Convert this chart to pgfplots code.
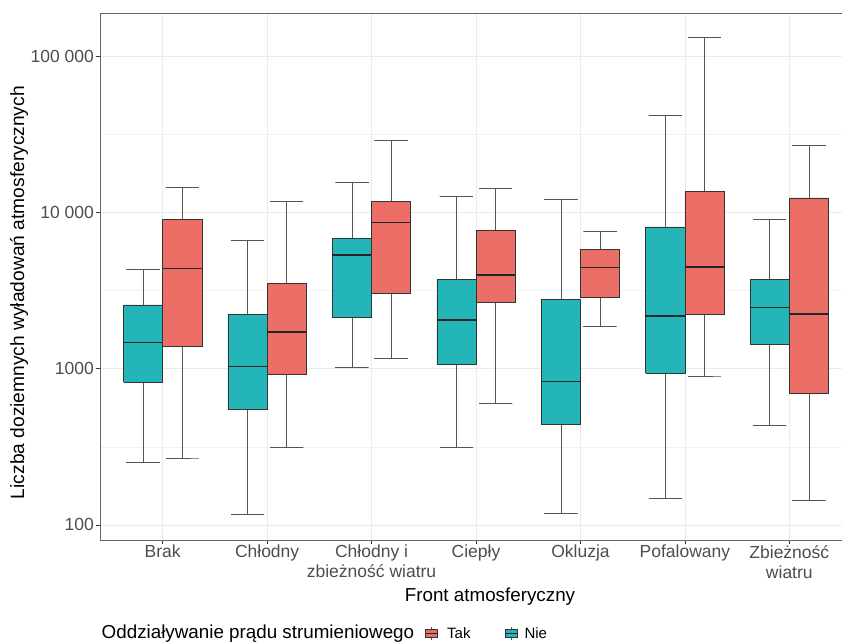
\documentclass[border=0pt]{standalone}
\usepackage{pgfplots}
\pgfplotsset{compat=1.18}
\usepackage{fontspec}
\setmainfont{Liberation Sans}
\definecolor{nie}{HTML}{23B5B8}
\definecolor{tak}{HTML}{EC6F67}
\definecolor{boxline}{HTML}{333333}
\definecolor{whisk}{HTML}{555555}
\definecolor{gridc}{HTML}{EBEBEB}
\definecolor{ticklab}{HTML}{4D4D4D}
\definecolor{framec}{HTML}{666666}
\pgfplotsset{
  keyimg/.style={legend image code/.code={
    \draw[draw=whisk, line width=0.5pt] (6pt,-1.5pt) -- (6pt,11.5pt);
    \draw[fill=#1, draw=boxline, line width=0.5pt] (0pt,1pt) rectangle (12pt,9pt);
    \draw[draw=black!85, line width=1pt] (0pt,5pt) -- (12pt,5pt);
  }},
}
% #1 position, #2 lower whisker, #3 lower quartile, #4 median, #5 upper quartile, #6 upper whisker, #7 colour
\newcommand{\bx}[7]{%
  \pgfmathsetmacro{\xa}{#1-0.1875}\pgfmathsetmacro{\xb}{#1+0.1875}%
  \pgfmathsetmacro{\ca}{#1-0.16}\pgfmathsetmacro{\cb}{#1+0.16}%
  \edef\temp{\noexpand\addplot[draw=whisk, line width=0.7pt, forget plot] coordinates {(\ca,#2) (\cb,#2) (#1,#2) (#1,#6) (\ca,#6) (\cb,#6)};%
  \noexpand\addplot[fill=#7, draw=boxline, line width=0.6pt, forget plot] coordinates {(\xa,#3) (\xb,#3) (\xb,#5) (\xa,#5) (\xa,#3)};%
  \noexpand\addplot[draw=black!85, line width=1.3pt, forget plot] coordinates {(\xa,#4) (\xb,#4)};}%
  \temp}
\begin{document}
\begin{tikzpicture}
\useasboundingbox (0,0) rectangle (842pt,644pt);
\begin{axis}[
  at={(100pt,104pt)}, anchor=south west,
  width=752pt, height=526.3pt, scale only axis,
  ymode=log,
  xmin=-0.6, xmax=6.6,
  ymin=80.1, ymax=186500,
  xtick={0,1,2,3,4,5,6},
  xticklabels={Brak,Chłodny,{Chłodny i\\zbieżność wiatru},Ciepły,Okluzja,Pofalowany,{Zbieżność\\wiatru}},
  ytick={100,1000,10000,100000},
  yticklabels={100,1000,10 000,100 000},
  minor ytick={316.23,3162.3,31623},
  minor tick length=0pt,
  major tick length=4pt,
  tick align=outside,
  tick pos=left,
  tick style={draw=boxline, line width=0.6pt},
  xmajorgrids, ymajorgrids, yminorgrids,
  major grid style={draw=gridc, line width=0.6pt},
  minor grid style={draw=gridc!70, line width=0.4pt},
  axis line style={draw=framec, line width=0.8pt},
  /pgf/number format/assume math mode=true,
  xticklabel style={font=\fontsize{17.5}{20}\selectfont, text=ticklab, align=center, inner sep=1pt, anchor=north},
  yticklabel style={font=\fontsize{17.5}{20}\selectfont, text=ticklab, inner sep=2pt, anchor=east},
  xlabel={Front atmosferyczny},
  xlabel style={font=\fontsize{18.8}{22}\selectfont, at={(axis description cs:0.5186,-0.107)}, anchor=center},
  ylabel={Liczba doziemnych wyładowań atmosferycznych},
  ylabel style={font=\fontsize{19.2}{22}\selectfont, at={(axis description cs:-0.1077,0.470)}, anchor=center},
  legend style={at={(axis description cs:0.0023,-0.175)}, anchor=west, draw=none, fill=none,
    inner sep=0pt, outer sep=0pt, font=\fontsize{15}{18}\selectfont,
    cells={anchor=base west}, nodes={inner sep=0pt},
    /tikz/column 1/.style={column sep=0pt},
    /tikz/column 2/.style={column sep=11pt},
    /tikz/column 3/.style={column sep=9pt},
    /tikz/column 4/.style={column sep=34pt},
    /tikz/column 5/.style={column sep=7pt}},
  legend columns=-1,
]
% Nie (left)
\bx{-0.1875}{251}{817}{1473}{2553}{4316}{nie}
\bx{0.8125}{117}{551}{1035}{2225}{6585}{nie}
\bx{1.8125}{1014}{2117}{5332}{6848}{15475}{nie}
\bx{2.8125}{315}{1065}{2046}{3705}{12660}{nie}
\bx{3.8125}{119}{438}{829}{2760}{12040}{nie}
\bx{4.8125}{148}{933}{2170}{8054}{41740}{nie}
\bx{5.8125}{434}{1437}{2453}{3705}{8970}{nie}
% Tak (right)
\bx{0.1875}{268}{1381}{4383}{9060}{14370}{tak}
\bx{1.1875}{314}{914}{1714}{3493}{11810}{tak}
\bx{2.1875}{1169}{3015}{8630}{11690}{28890}{tak}
\bx{3.1875}{603}{2655}{3970}{7670}{14240}{tak}
\bx{4.1875}{1854}{2859}{4423}{5800}{7515}{tak}
\bx{5.1875}{897}{2225}{4467}{13620}{130970}{tak}
\bx{6.1875}{144}{698}{2235}{12350}{26960}{tak}
\addlegendimage{empty legend}
\addlegendentry{\fontsize{18.8}{22}\selectfont Oddziaływanie prądu strumieniowego}
\addlegendimage{keyimg=tak}
\addlegendentry{Tak}
\addlegendimage{keyimg=nie}
\addlegendentry{Nie}
\end{axis}
\end{tikzpicture}
\end{document}
